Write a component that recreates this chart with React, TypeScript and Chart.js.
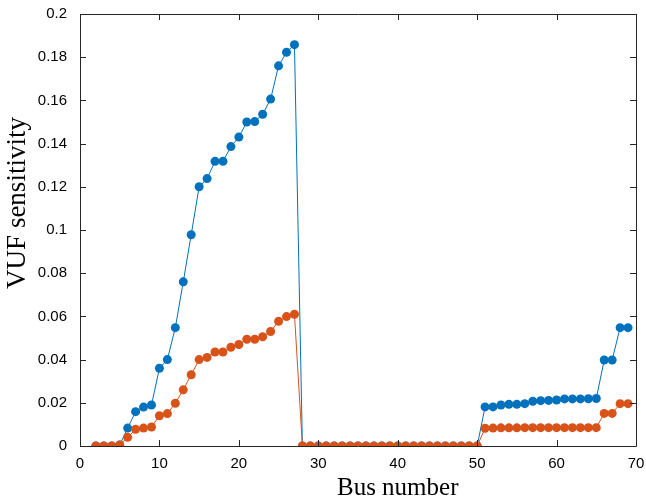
import React, { useEffect, useRef } from "react";
import { Chart, registerables } from "chart.js";

Chart.register(...registerables);

const busNumbers: number[] = [];
for (let b = 2; b <= 69; b++) busNumbers.push(b);

// Series 1 (blue), buses 2..69
const blueValues: number[] = [
  0, 0, 0, 0.0005, 0.0083, 0.0159, 0.018, 0.019, 0.036, 0.04, 0.0548, 0.076, 0.0978, 0.12, 0.1238, 0.1318,
  0.1318, 0.1386, 0.143, 0.15, 0.1502, 0.1536, 0.1606, 0.176, 0.1823, 0.1858,
  0, 0, 0, 0, 0, 0, 0, 0, 0, 0, 0, 0, 0, 0, 0, 0, 0, 0, 0, 0, 0, 0, 0,
  0.0181, 0.0181, 0.019, 0.0193, 0.0193, 0.0196, 0.0207, 0.021, 0.0211, 0.0213, 0.0218, 0.0218, 0.0218,
  0.0219, 0.022, 0.0398, 0.0398, 0.0548, 0.0548,
];

// Series 2 (orange), buses 2..69
const orangeValues: number[] = [
  0, 0, 0, 0.0005, 0.004, 0.0077, 0.0083, 0.0088, 0.014, 0.015, 0.0198, 0.026, 0.033, 0.04, 0.041, 0.0435,
  0.0435, 0.0457, 0.047, 0.0494, 0.0494, 0.0506, 0.053, 0.0577, 0.0599, 0.061,
  0, 0, 0, 0, 0, 0, 0, 0, 0, 0, 0, 0, 0, 0, 0, 0, 0, 0, 0, 0, 0, 0, 0,
  0.0082, 0.0083, 0.0084, 0.0084, 0.0084, 0.0085, 0.0085, 0.0085, 0.0085, 0.0085, 0.0085, 0.0085, 0.0085,
  0.0085, 0.0085, 0.0151, 0.0151, 0.0196, 0.0196,
];

const xTickValues = [0, 10, 20, 30, 40, 50, 60, 70];
const yTickValues = [0, 0.02, 0.04, 0.06, 0.08, 0.1, 0.12, 0.14, 0.16, 0.18, 0.2];

const xTitle = "Bus number";
const yTitle = "VUF sensitivity";

const BLUE = "#0072BD";
const ORANGE = "#D95319";
const AXIS = "#262626";

const boxPlugin = {
  id: "boxTicks",
  afterDraw(chart: any) {
    const { ctx, chartArea, scales } = chart;
    const { left, right, top, bottom } = chartArea;
    const len = 6;
    ctx.save();
    ctx.strokeStyle = AXIS;
    ctx.lineWidth = 1;
    ctx.beginPath();
    ctx.rect(left + 0.5, top + 0.5, right - left, bottom - top);
    for (const v of xTickValues) {
      const px = Math.round(scales.x.getPixelForValue(v)) + 0.5;
      ctx.moveTo(px, bottom);
      ctx.lineTo(px, bottom - len);
      ctx.moveTo(px, top);
      ctx.lineTo(px, top + len);
    }
    for (const v of yTickValues) {
      const py = Math.round(scales.y.getPixelForValue(v)) + 0.5;
      ctx.moveTo(left, py);
      ctx.lineTo(left + len, py);
      ctx.moveTo(right, py);
      ctx.lineTo(right - len, py);
    }
    ctx.stroke();

    // axis titles
    ctx.fillStyle = "#000";
    ctx.font = "25px 'Liberation Serif'";
    ctx.textAlign = "center";
    ctx.textBaseline = "alphabetic";
    ctx.fillText(xTitle, scales.x.getPixelForValue(40), 495);
    ctx.translate(25, 203);
    ctx.rotate(-Math.PI / 2);
    ctx.font = "27px 'Liberation Serif'";
    ctx.fillText(yTitle, 0, 0);
    ctx.restore();
  },
};

export default function App() {
  const ref = useRef<HTMLCanvasElement | null>(null);
  useEffect(() => {
    document.body.style.margin = "0";
    const canvas = ref.current;
    if (!canvas) return;
    const chart = new Chart(canvas, {
      type: "line",
      data: {
        datasets: [
          {
            label: "blue",
            data: busNumbers.map((b, i) => ({ x: b, y: blueValues[i] })),
            borderColor: BLUE,
            backgroundColor: BLUE,
            borderWidth: 1,
            pointRadius: 4.5,
            pointBorderWidth: 0,
            pointBackgroundColor: BLUE,
            tension: 0,
            order: 1,
          },
          {
            label: "orange",
            data: busNumbers.map((b, i) => ({ x: b, y: orangeValues[i] })),
            borderColor: ORANGE,
            backgroundColor: ORANGE,
            borderWidth: 1,
            pointRadius: 4.5,
            pointBorderWidth: 0,
            pointBackgroundColor: ORANGE,
            tension: 0,
            order: 0,
          },
        ],
      },
      options: {
        responsive: false,
        animation: false,
        layout: { padding: { top: 14, right: 10, left: 0, bottom: 0 } },
        plugins: { legend: { display: false }, tooltip: { enabled: false } },
        scales: {
          x: {
            type: "linear",
            min: 0,
            max: 70,
            afterBuildTicks: (s: any) => {
              s.ticks = xTickValues.map((v) => ({ value: v }));
            },
            afterFit: (s: any) => {
              s.height = 57;
              s.paddingLeft = 0;
              s.paddingRight = 0;
            },
            grid: { display: false, drawTicks: false },
            border: { display: false },
            ticks: {
              color: "#000",
              padding: 9,
              font: { family: "Liberation Sans", size: 15 },
              maxRotation: 0,
            },
          },
          y: {
            type: "linear",
            min: 0,
            max: 0.2,
            afterBuildTicks: (s: any) => {
              s.ticks = yTickValues.map((v) => ({ value: v }));
            },
            afterFit: (s: any) => {
              s.width = 80;
              s.paddingTop = 0;
              s.paddingBottom = 0;
            },
            grid: { display: false, drawTicks: false },
            border: { display: false },
            ticks: {
              color: "#000",
              padding: 13,
              font: { family: "Liberation Sans", size: 15 },
              callback: (v: any) => String(Number(Number(v).toFixed(2))),
            },
          },
        },
      },
      plugins: [boxPlugin],
    });
    return () => chart.destroy();
  }, []);
  return (
    <div style={{ width: 646, height: 503 }}>
      <canvas ref={ref} width={646} height={503} style={{ display: "block" }} />
    </div>
  );
}
